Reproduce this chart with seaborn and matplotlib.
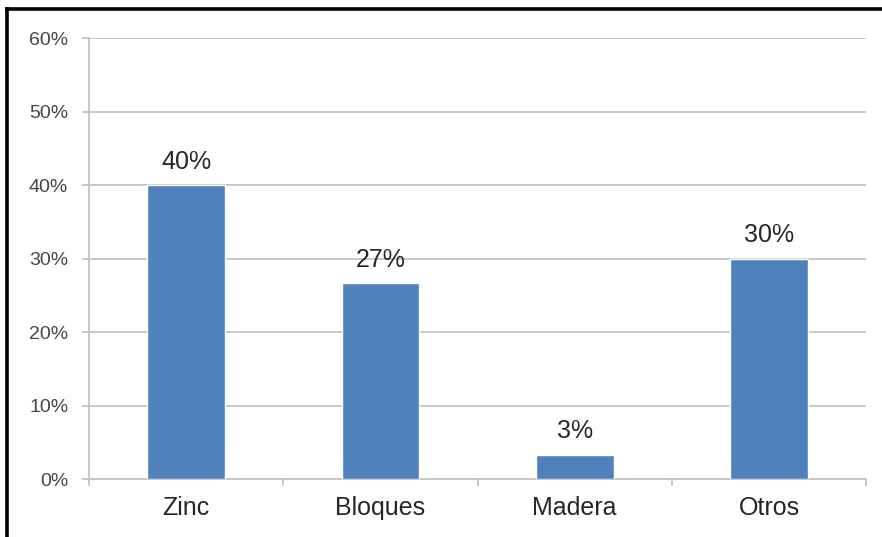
import matplotlib
matplotlib.use("Agg")
import matplotlib.pyplot as plt
from matplotlib.lines import Line2D
import seaborn as sns
import pandas as pd

# Housing wall material shares
categories = ["Zinc", "Bloques", "Madera", "Otros"]
shares = [12 / 30, 8 / 30, 1 / 30, 9 / 30]
y_ticks = [0.0, 0.1, 0.2, 0.3, 0.4, 0.5, 0.6]
y_tick_labels = ["0%", "10%", "20%", "30%", "40%", "50%", "60%"]

df = pd.DataFrame({"material": categories, "share": shares})

sns.set_style("white")
plt.rcParams["font.family"] = ["Liberation Sans", "DejaVu Sans"]

fig = plt.figure(figsize=(8.82, 5.37), dpi=100)
ax = fig.add_axes([0.101, 0.108, 0.881, 0.821])

sns.barplot(data=df, x="material", y="share", color="#4F81BD",
            saturation=1, width=0.40, ax=ax, zorder=3)

grid_color = "#C3C3C3"
ax.set_ylim(0, 0.6)
ax.set_xlim(-0.5, 3.5)
ax.set_yticks(y_ticks)
ax.set_yticklabels(y_tick_labels)
ax.yaxis.grid(True, color=grid_color, linewidth=1.3, zorder=0)
ax.set_axisbelow(True)
ax.set_xlabel("")
ax.set_ylabel("")

for side in ["top", "right"]:
    ax.spines[side].set_visible(False)
for side in ["left", "bottom"]:
    ax.spines[side].set_visible(True)
    ax.spines[side].set_color(grid_color)
    ax.spines[side].set_linewidth(1.3)

# Category boundary ticks on the x axis
ax.set_xticks([-0.5, 0.5, 1.5, 2.5, 3.5], minor=True)
ax.tick_params(axis="x", which="minor", length=5, width=1.3, color=grid_color,
               bottom=True)
ax.tick_params(axis="x", which="major", length=0, pad=12,
               labelsize=18, labelcolor="#262626")
ax.tick_params(axis="y", which="major", length=5, width=1.3, color=grid_color,
               left=True, pad=10, labelsize=14, labelcolor="#454545")

for patch, val in zip(ax.patches, shares):
    ax.annotate(f"{val:.0%}",
                (patch.get_x() + patch.get_width() / 2, patch.get_height()),
                xytext=(0, 8), textcoords="offset points",
                ha="center", va="bottom", fontsize=18, color="#262626")

# Frame around the chart area
fig.add_artist(Line2D([6.5 / 882, 6.5 / 882], [0, 1 - 7.2 / 537],
                      transform=fig.transFigure, color="black", linewidth=2.6,
                      solid_capstyle="butt"))
fig.add_artist(Line2D([5.2 / 882, 1], [1 - 8.5 / 537, 1 - 8.5 / 537],
                      transform=fig.transFigure, color="black", linewidth=2.6,
                      solid_capstyle="butt"))

fig.savefig("out.png", dpi=100, facecolor="white")
